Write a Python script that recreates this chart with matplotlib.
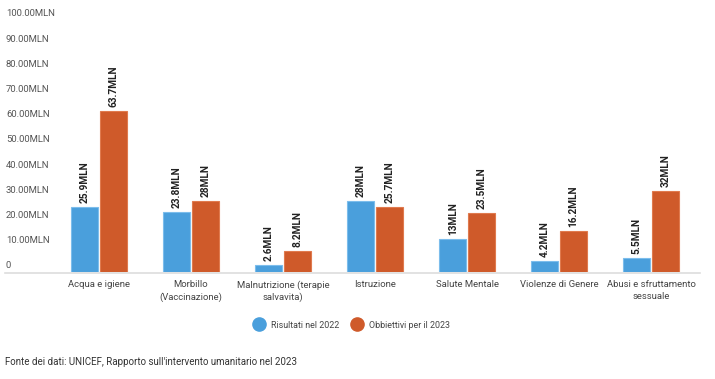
import matplotlib
matplotlib.use("Agg")
import matplotlib.pyplot as plt
from matplotlib.lines import Line2D
from matplotlib.transforms import blended_transform_factory
import numpy as np

plt.rcParams['font.family'] = ['Roboto', 'DejaVu Sans']

categorie = ["Acqua e igiene", "Morbillo\n(Vaccinazione)", "Malnutrizione (terapie\nsalvavita)",
             "Istruzione", "Salute Mentale", "Violenze di Genere", "Abusi e sfruttamento\nsessuale"]
risultati_2022 = [25.9, 23.8, 2.6, 28, 13, 4.2, 5.5]
obiettivi_2023 = [63.7, 28, 8.2, 25.7, 23.5, 16.2, 32]
etichette_2022 = ["25.9MLN", "23.8MLN", "2.6MLN", "28MLN", "13MLN", "4.2MLN", "5.5MLN"]
etichette_2023 = ["63.7MLN", "28MLN", "8.2MLN", "25.7MLN", "23.5MLN", "16.2MLN", "32MLN"]
yticks = [0, 10, 20, 30, 40, 50, 60, 70, 80, 90, 100]
ytick_labels = ["0"] + ["%.2fMLN" % v for v in yticks[1:]]

blu = "#4a9fdc"
arancio = "#cf5a2a"

fig = plt.figure(figsize=(7.15, 3.79), dpi=100)
ax = fig.add_axes([53/715, 1-272/379, (697-53)/715, 252/379])

x = np.arange(len(categorie))
w = 0.29
ax.bar(x - w/2 - 0.01, risultati_2022, w, color=blu, edgecolor="#7cbdec", linewidth=0.8)
ax.bar(x + w/2 + 0.01, obiettivi_2023, w, color=arancio, edgecolor="#e07a4e", linewidth=0.8)

for i in range(len(x)):
    ax.annotate(etichette_2022[i], (x[i] - w/2 - 0.01, risultati_2022[i]), xytext=(0, 3),
                textcoords="offset points", rotation=90, ha="center", va="bottom",
                fontsize=7.3, fontweight="bold", color="#222222")
    ax.annotate(etichette_2023[i], (x[i] + w/2 + 0.01, obiettivi_2023[i]), xytext=(0, 3),
                textcoords="offset points", rotation=90, ha="center", va="bottom",
                fontsize=7.3, fontweight="bold", color="#222222")

ax.set_xlim(-0.5, len(categorie) - 0.5)
ax.set_ylim(0, 100)
ax.set_xticks(x)
ax.set_xticklabels(categorie, fontsize=6.8, color="#444444", linespacing=1.4)
ax.tick_params(axis="x", length=0, pad=6)
ax.set_yticks([])
for s in ax.spines.values():
    s.set_visible(False)

tr = blended_transform_factory(fig.transFigure, ax.transData)
for v, lab in zip(yticks, ytick_labels):
    ax.text(6/715, v + 0.6, lab, transform=tr, ha="left", va="bottom",
            fontsize=6.8, color="#555555")

fig.add_artist(Line2D([5/715, 700/715], [1-272.5/379, 1-272.5/379], color="#dddddd", linewidth=1.2))

handles = [Line2D([], [], marker="o", linestyle="", markersize=9.5, color=blu),
           Line2D([], [], marker="o", linestyle="", markersize=9.5, color=arancio)]
fig.legend(handles, ["Risultati nel 2022", "Obbiettivi per il 2023"], loc="center",
           bbox_to_anchor=(350/715, 1-325/379), ncol=2, frameon=False, fontsize=6.4,
           handletextpad=0.3, columnspacing=1.0, labelcolor="#444444")

fig.text(5/715, 1-362/379, "Fonte dei dati: UNICEF, Rapporto sull'intervento umanitario nel 2023",
         fontsize=7, color="#333333", va="center", ha="left")

fig.savefig("out.png", dpi=100)
